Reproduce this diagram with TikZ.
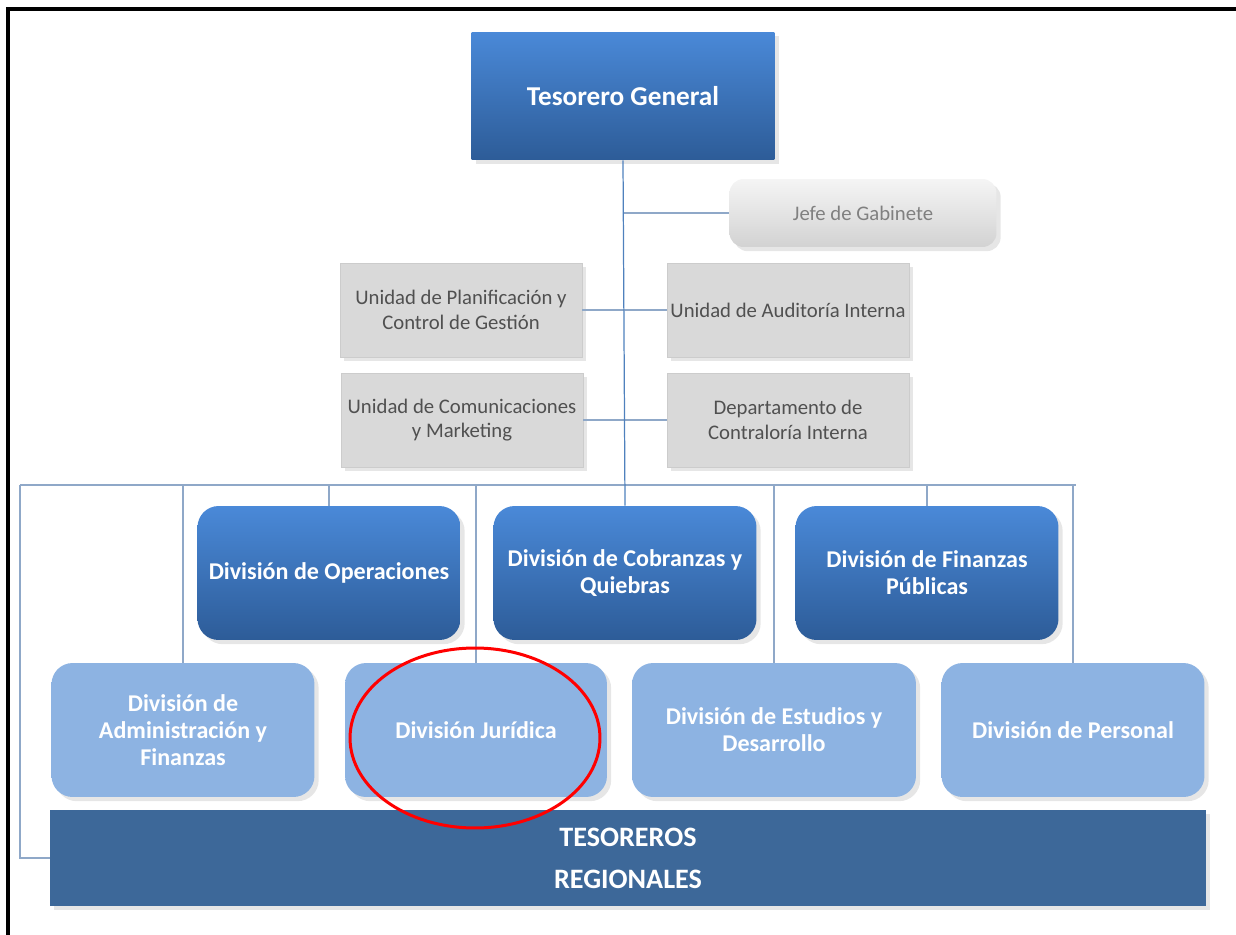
\documentclass[tikz,border=0pt]{standalone}
\usepackage{fontspec}
\setmainfont{Carlito}
\usetikzlibrary{shapes.geometric,shadows}
\definecolor{blueTop}{HTML}{4A89D8}
\definecolor{blueBot}{HTML}{2D5C98}
\definecolor{paleBlue}{HTML}{8DB3E2}
\definecolor{barBlue}{HTML}{3D6899}
\definecolor{unitGray}{HTML}{D9D9D9}
\definecolor{unitText}{HTML}{505050}
\definecolor{busLine}{HTML}{8FA8C8}
\definecolor{mainLine}{HTML}{4F81BD}
\begin{document}
\begin{tikzpicture}[
    x=0.02cm, y=-0.02cm,
    boss/.style={rectangle, top color=blueTop, bottom color=blueBot, text=white,
      minimum width=6.06cm, minimum height=2.56cm,
      font=\bfseries\fontsize{15.5}{18}\selectfont, drop shadow={opacity=0.2}},
    aide/.style={rectangle, rounded corners=8pt, top color=gray!8, bottom color=gray!35,
      text=gray, minimum width=5.34cm, minimum height=1.36cm,
      font=\fontsize{11.8}{14}\selectfont, drop shadow={opacity=0.2}},
    unit/.style={rectangle, fill=unitGray, draw=gray!40, text=unitText,
      minimum width=4.84cm, minimum height=1.88cm, align=center, inner xsep=1pt,
      font=\fontsize{11.8}{14}\selectfont, drop shadow={opacity=0.2}},
    div/.style={rectangle, rounded corners=12pt, top color=blueTop, bottom color=blueBot,
      text=white, minimum width=5.26cm, minimum height=2.68cm, align=center,
      font=\bfseries\fontsize{13.7}{15.5}\selectfont, drop shadow={opacity=0.2}},
    subdiv/.style={div, top color=paleBlue, bottom color=paleBlue},
    link/.style={draw=busLine, line width=0.6pt},
  ]
  \useasboundingbox (0,0) rectangle (1236,935);
  \draw[line width=0.08cm] (8,935) -- (8,9) -- (1236,9);

  % cabeza y apoyo
  \node[boss] (tg) at (623,96) {Tesorero General};
  \node[aide] (jefe) at (863,213) {Jefe de Gabinete};
  \node[unit] (upc) at (461,310) {Unidad de Planificación y\\Control de Gestión};
  \node[unit] (uai) at (788,310) {Unidad de Auditoría Interna};
  \node[unit] (ucm) at (462,420) {Unidad de Comunicaciones\\y Marketing};
  \node[unit] (dci) at (788,420) {Departamento de\\Contraloría Interna};

  % divisiones
  \node[div] (opr) at (329,573) {División de Operaciones};
  \node[div] (cob) at (625,573) {División de Cobranzas y\\Quiebras};
  \node[div] (fin) at (927,573) {División de Finanzas\\Públicas};
  \node[subdiv] (adm) at (183,730) {División de\\Administración y\\Finanzas};
  \node[subdiv, minimum width=5.24cm] (jur) at (476,730) {División Jurídica};
  \node[subdiv, minimum width=5.68cm] (est) at (774,730) {División de Estudios y\\Desarrollo};
  \node[subdiv] (per) at (1073,730) {División de Personal};
  \node[rectangle, fill=barBlue, text=white, minimum width=23.12cm, minimum height=1.92cm,
    align=center, font=\bfseries\fontsize{16}{24}\selectfont,
    drop shadow={opacity=0.2}] (reg) at (628,858) {TESOREROS\\REGIONALES};

  % conectores
  \coordinate (busL) at (20,485);
  \coordinate (busR) at (1076,485);
  \draw[link] (upc.east) -- (uai.west);
  \draw[link] (ucm.east) -- (dci.west);
  \draw[link] (jefe.west) -- (jefe.west -| tg.south);
  \draw[link] (busL) -- (busR);
  \draw[link] (busL) |- (reg.west);
  \foreach \n in {adm,opr,jur,est,fin,per}
    \draw[link] (\n.north) -- (\n.north |- busL);
  \draw[draw=mainLine, line width=0.7pt] (tg.south) -- (cob.north);

  \node[ellipse, draw=red, line width=0.06cm, minimum width=5cm, minimum height=3.6cm] (mark) at (475,738) {};
\end{tikzpicture}
\end{document}
